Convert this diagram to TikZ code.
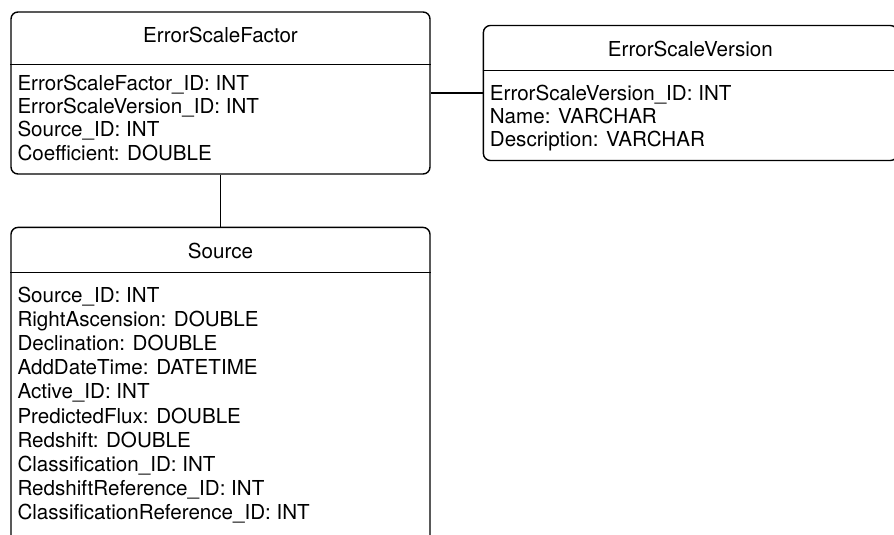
\documentclass[tikz,border=0pt]{standalone}
\usepackage{fontspec}
\setmainfont{TeX Gyre Heros}
\usetikzlibrary{positioning}

\begin{document}
\begin{tikzpicture}[
  x=1pt, y=-1pt,
  font=\fontsize{20.6}{24.2}\selectfont,
  node distance=52pt,
  tbl/.style={draw, line width=1.4pt, rounded corners=7pt, inner sep=0pt,
              minimum width=419pt},
  ttl/.style={anchor=base, inner sep=0pt},
  fields/.style={anchor=north west, align=left, inner sep=0pt,
                 font=\fontsize{20.6}{#1}\selectfont},
  fields/.default=24.2,
  rel/.style={line width=1.4pt},
]
\useasboundingbox (0,0) rectangle (894,535);
\clip (0,0) rectangle (894,535);

% Tables
\node[tbl, minimum height=162pt] (esf) at (220.5,93) {};
\node[tbl, minimum height=135pt, minimum width=414pt, right=of esf] (esv) {};
\node[tbl, minimum height=334pt, below=of esf] (src) {};

% Header separators
\draw[rel] ([yshift=-53pt]esf.north west) -- ([yshift=-53pt]esf.north east);
\draw[rel] ([yshift=-46pt]esv.north west) -- ([yshift=-46pt]esv.north east);
\draw[rel] ([yshift=-46pt]src.north west) -- ([yshift=-46pt]src.north east);

% Titles
\node[ttl] (esf-t) at ([yshift=-31.5pt]esf.north) {ErrorScaleFactor};
\node[ttl] (esv-t) at ([yshift=-31.5pt]esv.north) {ErrorScaleVersion};
\node[ttl] (src-t) at ([yshift=-31.5pt]src.north) {Source};

% Fields
\node[fields=23.3] (esf-f) at ([xshift=7pt,yshift=-63.5pt]esf.north west)
  {ErrorScaleFactor\_ID: INT\\ErrorScaleVersion\_ID: INT\\Source\_ID: INT\\Coefficient: DOUBLE};
\node[fields=23] (esv-f) at ([xshift=7pt,yshift=-60.5pt]esv.north west)
  {ErrorScaleVersion\_ID: INT\\Name: VARCHAR\\Description: VARCHAR};
\node[fields] (src-f) at ([xshift=7pt,yshift=-59.8pt]src.north west)
  {Source\_ID: INT\\RightAscension: DOUBLE\\Declination: DOUBLE\\AddDateTime: DATETIME\\
   Active\_ID: INT\\PredictedFlux: DOUBLE\\Redshift: DOUBLE\\Classification\_ID: INT\\
   RedshiftReference\_ID: INT\\ClassificationReference\_ID: INT};

% Relations
\draw[rel] (esf.east) -- (esv.west);
\draw[rel] (esf.south) -- (src.north);

\end{tikzpicture}
\end{document}
